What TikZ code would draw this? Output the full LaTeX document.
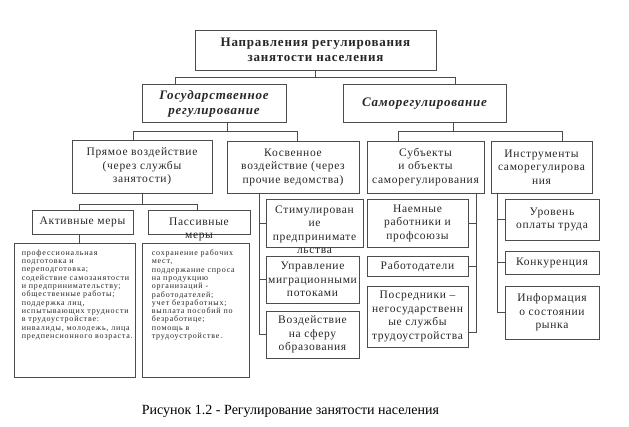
\documentclass[tikz,border=0pt]{standalone}
\usepackage{fontspec}
\setmainfont{Liberation Serif}
\newfontfamily\dgfont[LetterSpace=6]{Liberation Serif}
\newfontfamily\smfont[LetterSpace=10]{Liberation Serif}
\usetikzlibrary{positioning, calc}
\tikzset{%
  box/.style={draw=black!70, line width=0.8pt, inner sep=0pt, align=center, text=black!85},
  head/.style={box, font=\dgfont\bfseries\fontsize{13}{15}\selectfont},
  branch/.style={box, font=\dgfont\bfseries\itshape\fontsize{13}{15}\selectfont},
  item/.style={box, font=\dgfont\fontsize{11.5}{13.5}\selectfont},
  label text/.style={inner sep=0pt, align=center, text=black!85,
    font=\dgfont\fontsize{11.5}{13.5}\selectfont},
  note/.style={inner sep=0pt, align=left, text=black!85,
    font=\smfont\fontsize{8}{8.3}\selectfont},
  edge/.style={draw=black!70, line width=0.8pt}
}

\begin{document}
\begin{tikzpicture}[x=1pt, y=-1pt]
  \useasboundingbox (0,0) rectangle (629,427);
  % levels 1 and 2
  \node[head, minimum width=241, minimum height=40] (top) at (315.5,50)
    {Направления регулирования\\занятости населения};
  \node[branch, minimum width=144, minimum height=38] (gos) at (214,103.5)
    {Государственное\\регулирование};
  \node[branch, minimum width=163, minimum height=38] (self) at (424.5,103.5)
    {Саморегулирование};
  % level 3
  \node[item, minimum width=140, minimum height=53] (direct) at (142,166.5)
    {Прямое воздействие\\(через службы\\занятости)};
  \node[item, minimum width=132, minimum height=52] (indirect) at (293,167)
    {Косвенное\\воздействие (через\\прочие ведомства)};
  \node[item, minimum width=117, minimum height=52] (subj) at (425.5,167)
    {Субъекты\\и объекты\\саморегулирования};
  \node[item, minimum width=101, minimum height=52] (tools) at (541.5,167)
    {Инструменты\\саморегулирова\\ния};
  % measures
  \node[item, minimum width=101, minimum height=24] (active) at (82.5,222)
    {Активные меры};
  \node[item, minimum width=102, minimum height=24] (passive) at (199,222) {};
  \node[label text, anchor=north] at ([yshift=-8]passive.north) {Пассивные\\меры};
  \node[box, minimum width=121, minimum height=134] (actlist) at (74.5,310) {};
  \node[note, anchor=north west] at ([xshift=8,yshift=-7]actlist.north west)
    {профессиональная\\подготовка и\\переподготовка;\\содействие самозанятости\\
     и предпринимательству;\\общественные работы;\\поддержка лиц,\\
     испытывающих трудности\\в трудоустройстве:\\инвалиды, молодежь, лица\\
     предпенсионного возраста.};
  \node[box, minimum width=107, minimum height=134] (paslist) at (195.5,310) {};
  \node[note, anchor=north west] at ([xshift=10,yshift=-7]paslist.north west)
    {сохранение рабочих\\мест,\\поддержание спроса\\на продукцию\\организаций -\\
     работодателей;\\учет безработных;\\выплата пособий по\\безработице;\\
     помощь в\\трудоустройстве.};
  % other ministries
  \node[box, minimum width=97, minimum height=48] (stim) at (314.5,223) {};
  \node[label text, anchor=north] at ([yshift=-7]stim.north)
    {Стимулирован\\ие\\предпринимате\\льства};
  \node[item, minimum width=93, minimum height=47] (migr) at (312.5,279.5)
    {Управление\\миграционными\\потоками};
  \node[item, minimum width=93, minimum height=47] (edu) at (312.5,334.5)
    {Воздействие\\на сферу\\образования};
  % subjects
  \node[item, minimum width=101, minimum height=48] (hired) at (417.5,223)
    {Наемные\\работники и\\профсоюзы};
  \node[item, minimum width=101, minimum height=20] (empl) at (417.5,266)
    {Работодатели};
  \node[item, minimum width=101, minimum height=61] (agents) at (417.5,316.5)
    {Посредники –\\негосударственн\\ые службы\\трудоустройства};
  % tools
  \node[item, minimum width=94, minimum height=41] (wage) at (552,219.5)
    {Уровень\\оплаты труда};
  \node[item, minimum width=94, minimum height=23] (compet) at (552,262.5)
    {Конкуренция};
  \node[item, minimum width=94, minimum height=53] (info) at (552,312.5)
    {Информация\\о состоянии\\рынка};
  \node[font=\fontsize{14}{16}\selectfont] (caption) at (290.5,411)
    {Рисунок 1.2 - Регулирование занятости населения};

  % buses
  \coordinate (b1) at (0,77);
  \coordinate (b2) at (0,131);
  \coordinate (b3) at (0,204);
  \draw[edge] (top.south) -- (top.south |- b1);
  \draw[edge] ([xshift=-39]gos.north) |- ([xshift=30.5]self.north |- b1)
    -- ([xshift=30.5]self.north);
  \draw[edge] ([xshift=13]gos.south) -- ([xshift=13]gos.south |- b2);
  \draw[edge] ([xshift=-9]direct.north) |- ([xshift=4]indirect.north |- b2)
    -- ([xshift=4]indirect.north);
  \draw[edge] ([xshift=28.5]self.south) -- ([xshift=28.5]self.south |- b2);
  \draw[edge] ([xshift=-27.5]subj.north) |- ([xshift=20.5]tools.north |- b2)
    -- ([xshift=20.5]tools.north);
  \draw[edge] (direct.south) -- (direct.south |- b3);
  \draw[edge] ([xshift=-3.5]active.north) |- ([xshift=-2]passive.north |- b3)
    -- ([xshift=-2]passive.north);
  \draw[edge] ([xshift=-3.5]active.south) -- ([xshift=-3.5]active.south |- actlist.north);
  % spines
  \coordinate (ks) at ([xshift=-34]indirect.south);
  \draw[edge] (ks) |- (edu.west);
  \draw[edge] (ks |- stim.west) -- (stim.west);
  \draw[edge] (ks |- migr.west) -- (migr.west);
  \coordinate (ss) at ([xshift=50.5]subj.south);
  \draw[edge] (ss) |- ([yshift=-15.5]agents.east);
  \draw[edge] (ss |- hired.east) -- (hired.east);
  \draw[edge] (ss |- empl.east) -- (empl.east);
  \coordinate (ts) at ([xshift=-44.5]tools.south);
  \draw[edge] (ts) |- (info.west);
  \draw[edge] (ts |- wage.west) -- (wage.west);
  \draw[edge] (ts |- compet.west) -- (compet.west);
\end{tikzpicture}
\end{document}
